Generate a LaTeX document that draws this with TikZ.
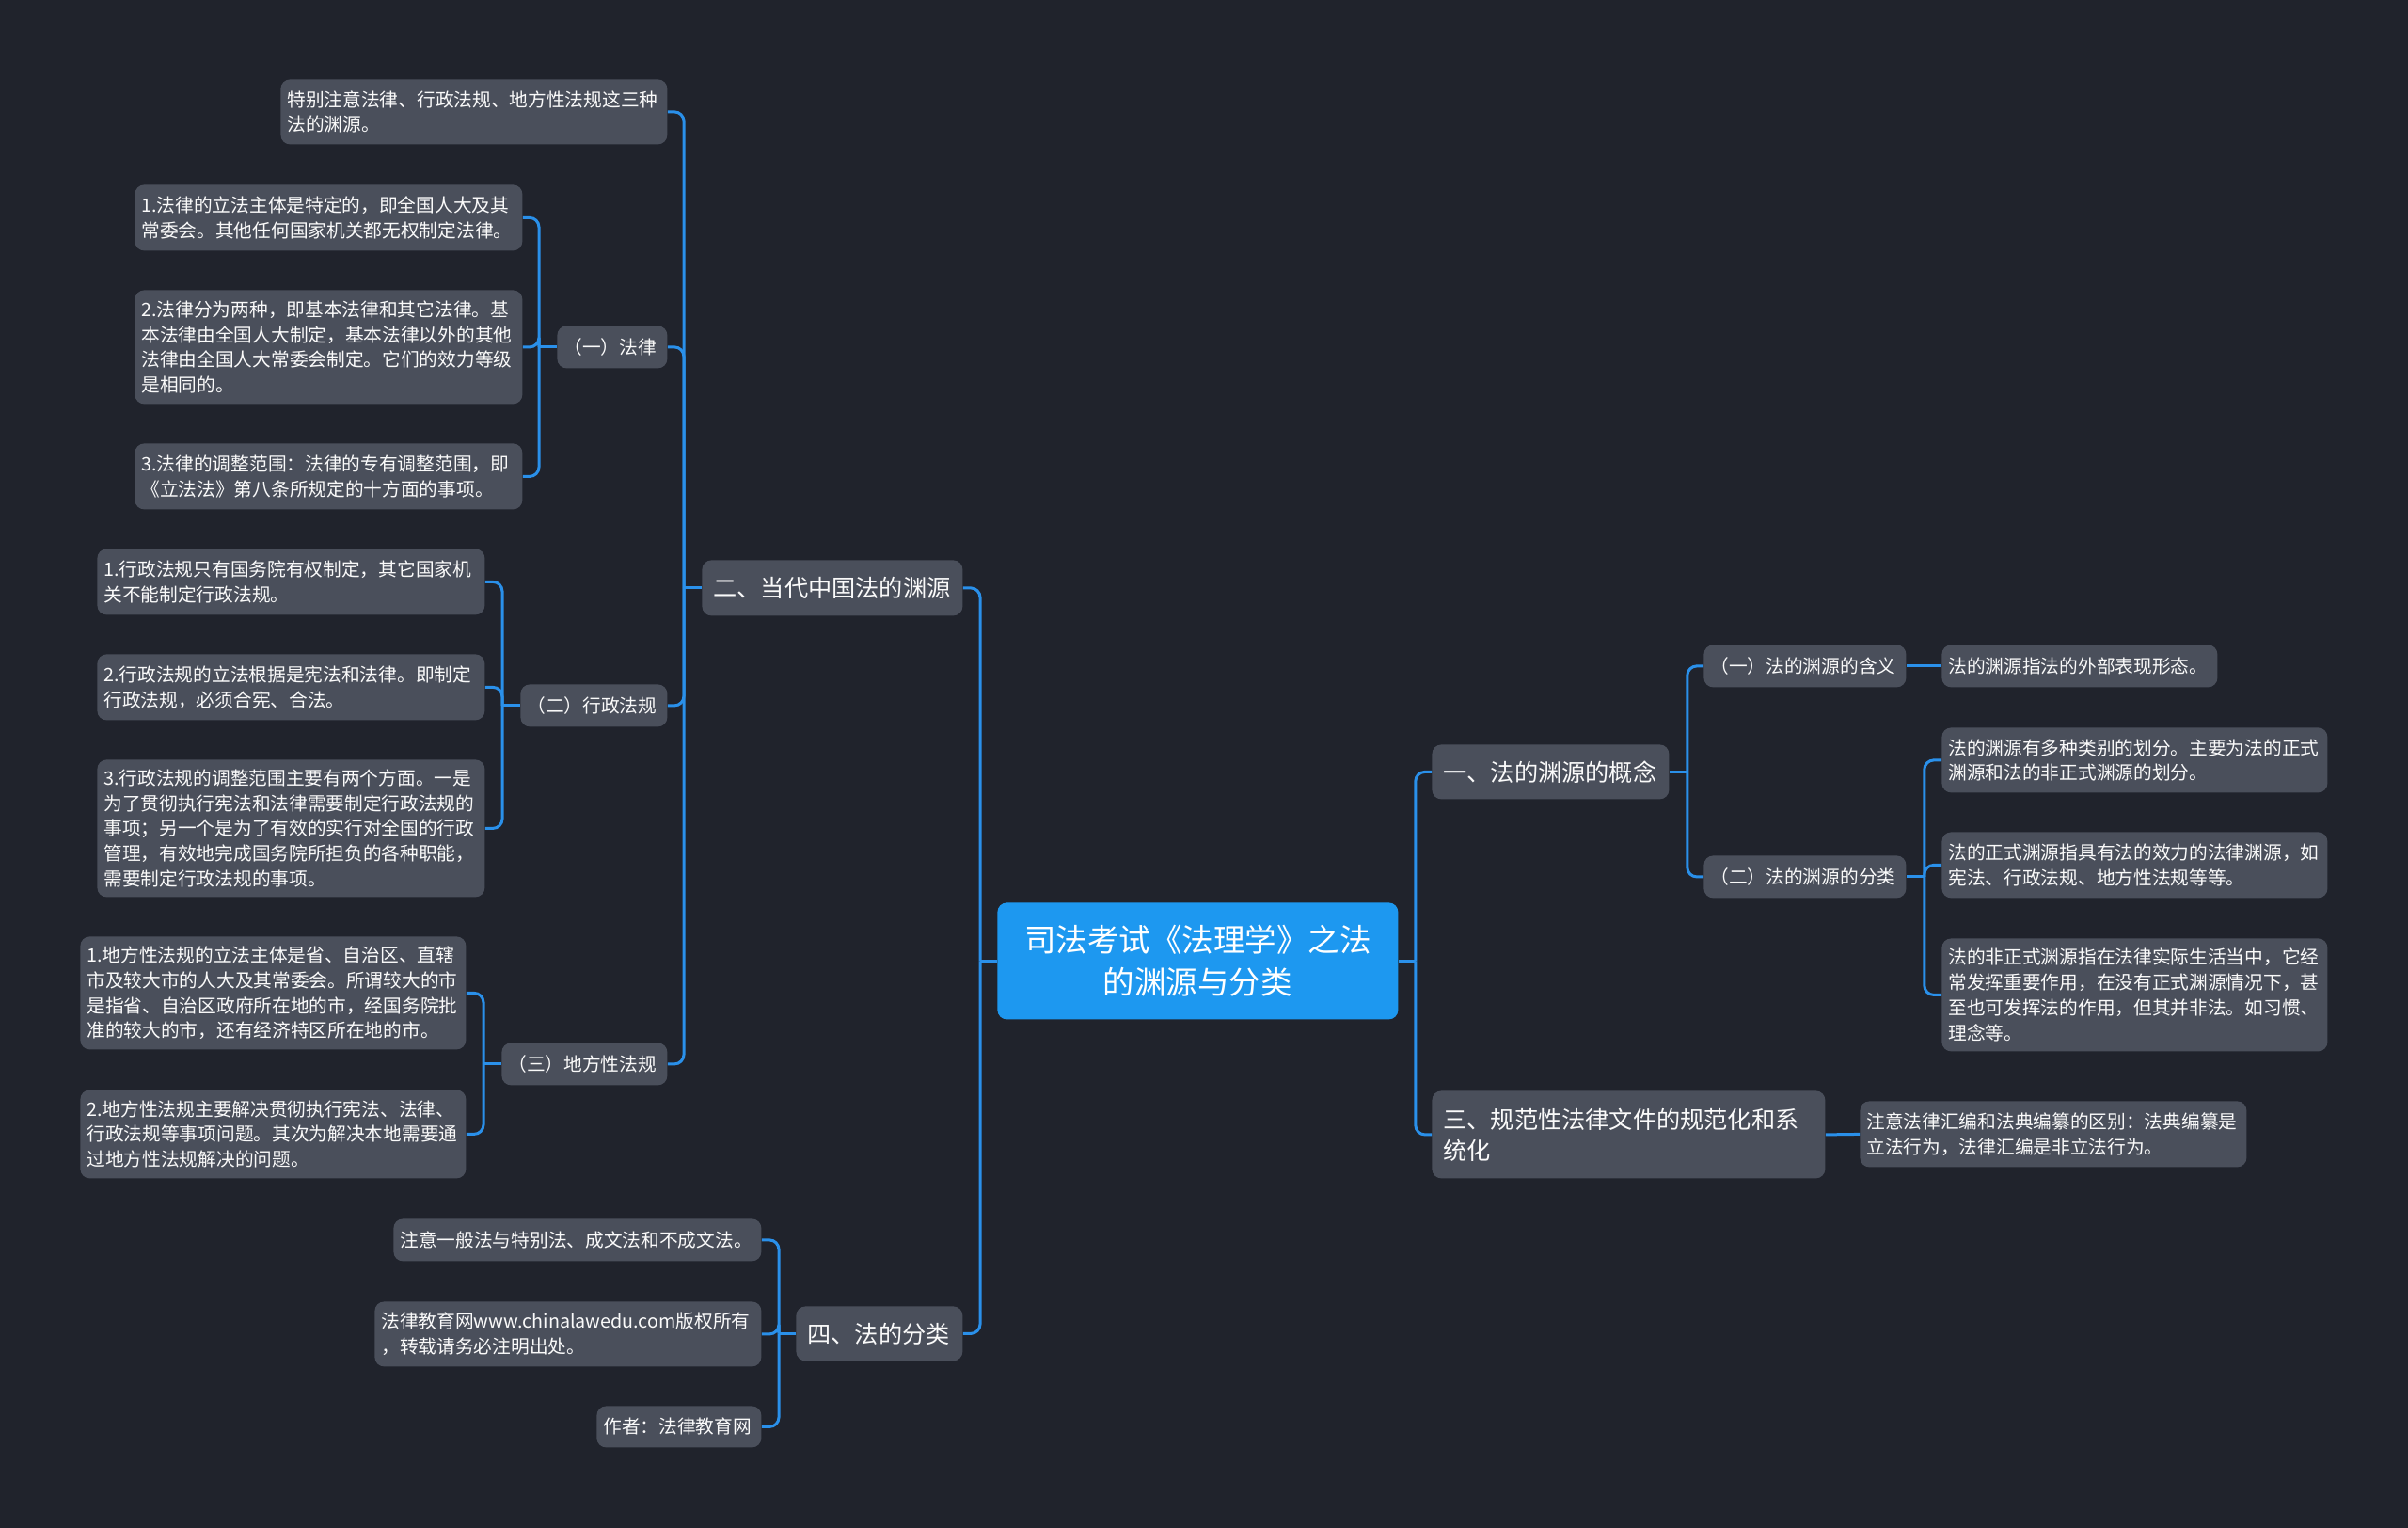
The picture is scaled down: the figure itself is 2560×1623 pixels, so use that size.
\documentclass[tikz,border=0pt]{standalone}
\usepackage{fontspec}
\newfontfamily\cjk{Noto Sans CJK SC}
\definecolor{bgc}{HTML}{20232C}
\definecolor{nodebg}{HTML}{4A4F5B}
\definecolor{linec}{HTML}{2A90EA}
\definecolor{rootc}{HTML}{1D98F0}
\definecolor{txt}{HTML}{FAFAFA}
\tikzset{
  basebox/.style={draw=none, fill=nodebg, rounded corners=5pt, text=txt, inner ysep=0pt, align=left},
  smallbox/.style={basebox, font=\cjk\fontsize{9.85}{13.35}\selectfont},
  branchbox/.style={basebox, font=\cjk\fontsize{12.6}{16.5}\selectfont},
  rootbox/.style={basebox, fill=rootc, text=white, align=center, font=\cjk\fontsize{16.75}{22.5}\selectfont},
  conn/.style={draw=linec, line width=1.5pt, rounded corners=5pt},
}
% name, style, pad(pt), x1, y1, x2, y2, text  (coordinates in px)
\newcommand\bx[8]{%
  \pgfmathsetmacro\bxw{(#6-#4)*0.5}%
  \pgfmathsetmacro\bxh{(#7-#5)*0.5}%
  \pgfmathsetmacro\bxt{(#6-#4)*0.5-2*#3}%
  \node[#2, anchor=north west, inner xsep=#3pt, minimum width=\bxw pt, minimum height=\bxh pt, text width=\bxt pt] (#1) at (#4,#5) {#8};%
}
\begin{document}
\begin{tikzpicture}[x=0.5pt,y=-0.5pt]
\useasboundingbox (0,0) rectangle (2560,1623);
\fill[bgc] (-10,-10) rectangle (2570,1633);

% root
\bx{root}{rootbox}{6}{1060}{959}{1486}{1083}{司法考试《法理学》之法\\的渊源与分类}

% left main branches
\bx{b2}{branchbox}{6}{746}{595}{1023}{654}{二、当代中国法的渊源}
\bx{b4}{branchbox}{6}{846}{1388}{1023}{1446}{四、法的分类}

% branch two children
\bx{tb}{smallbox}{3.5}{298}{84}{709}{153}{特别注意法律、行政法规、地方性法规这三种\\法的渊源。}
\bx{lawH}{smallbox}{3.5}{592}{346}{709}{391}{（一）法律}
\bx{admH}{smallbox}{3.5}{553}{727}{709}{772}{（二）行政法规}
\bx{locH}{smallbox}{3.5}{533}{1108}{709}{1153}{（三）地方性法规}

\bx{law1}{smallbox}{3.5}{143}{196}{555}{266}{1.法律的立法主体是特定的，即全国人大及其\\常委会。其他任何国家机关都无权制定法律。}
\bx{law2}{smallbox}{3.5}{143}{308}{555}{429}{2.法律分为两种，即基本法律和其它法律。基\\本法律由全国人大制定，基本法律以外的其他\\法律由全国人大常委会制定。它们的效力等级\\是相同的。}
\bx{law3}{smallbox}{3.5}{143}{471}{555}{541}{3.法律的调整范围：法律的专有调整范围，即\\《立法法》第八条所规定的十方面的事项。}

\bx{adm1}{smallbox}{3.5}{103}{583}{515}{653}{1.行政法规只有国务院有权制定，其它国家机\\关不能制定行政法规。}
\bx{adm2}{smallbox}{3.5}{103}{695}{515}{765}{2.行政法规的立法根据是宪法和法律。即制定\\行政法规，必须合宪、合法。}
\bx{adm3}{smallbox}{3.5}{103}{807}{515}{953}{3.行政法规的调整范围主要有两个方面。一是\\为了贯彻执行宪法和法律需要制定行政法规的\\事项；另一个是为了有效的实行对全国的行政\\管理，有效地完成国务院所担负的各种职能，\\需要制定行政法规的事项。}

\bx{loc1}{smallbox}{3.5}{85}{995}{495}{1115}{1.地方性法规的立法主体是省、自治区、直辖\\市及较大市的人大及其常委会。所谓较大的市\\是指省、自治区政府所在地的市，经国务院批\\准的较大的市，还有经济特区所在地的市。}
\bx{loc2}{smallbox}{3.5}{85}{1158}{495}{1252}{2.地方性法规主要解决贯彻执行宪法、法律、\\行政法规等事项问题。其次为解决本地需要通\\过地方性法规解决的问题。}

% branch four children
\bx{c1}{smallbox}{3.5}{418}{1295}{809}{1340}{注意一般法与特别法、成文法和不成文法。}
\bx{c2}{smallbox}{3.5}{398}{1383}{809}{1452}{法律教育网www.chinalawedu.com版权所有\\，转载请务必注明出处。}
\bx{c3}{smallbox}{3.5}{634}{1494}{809}{1538}{作者：法律教育网}

% right branches
\bx{b1}{branchbox}{6}{1522}{791}{1774}{849}{一、法的渊源的概念}
\bx{b3}{branchbox}{6}{1522}{1159}{1940}{1252}{三、规范性法律文件的规范化和系\\统化}

\bx{s1}{smallbox}{3.5}{1811}{685}{2026}{730}{（一）法的渊源的含义}
\bx{s1l}{smallbox}{3.5}{2064}{685}{2357}{730}{法的渊源指法的外部表现形态。}
\bx{s2}{smallbox}{3.5}{1811}{909}{2026}{954}{（二）法的渊源的分类}
\bx{s2a}{smallbox}{3.5}{2064}{773}{2474}{842}{法的渊源有多种类别的划分。主要为法的正式\\渊源和法的非正式渊源的划分。}
\bx{s2b}{smallbox}{3.5}{2064}{884}{2474}{954}{法的正式渊源指具有法的效力的法律渊源，如\\宪法、行政法规、地方性法规等等。}
\bx{s2c}{smallbox}{3.5}{2064}{997}{2474}{1117}{法的非正式渊源指在法律实际生活当中，它经\\常发挥重要作用，在没有正式渊源情况下，甚\\至也可发挥法的作用，但其并非法。如习惯、\\理念等。}
\bx{b3l}{smallbox}{3.5}{1977}{1170}{2388}{1240}{注意法律汇编和法典编纂的区别：法典编纂是\\立法行为，法律汇编是非立法行为。}

% connectors: root left
\draw[conn] (root.west) -- ++(-18,0) coordinate (rl);
\draw[conn] (rl) |- (b2.east);
\draw[conn] (rl) |- (b4.east);
% root right
\draw[conn] (root.east) -- ++(18,0) coordinate (rr);
\draw[conn] (rr) |- (b1.west);
\draw[conn] (rr) |- (b3.west);

% branch two
\draw[conn] (b2.west) -- ++(-19,0) coordinate (b2j);
\draw[conn] (b2j) |- (tb.east);
\draw[conn] (b2j) |- (lawH.east);
\draw[conn] (b2j) |- (admH.east);
\draw[conn] (b2j) |- (locH.east);

\draw[conn] (lawH.west) -- ++(-19,0) coordinate (lawj);
\draw[conn] (lawj) |- (law1.east);
\draw[conn] (lawj) |- (law2.east);
\draw[conn] (lawj) |- (law3.east);

\draw[conn] (admH.west) -- ++(-19,0) coordinate (admj);
\draw[conn] (admj) |- (adm1.east);
\draw[conn] (admj) |- (adm2.east);
\draw[conn] (admj) |- (adm3.east);

\draw[conn] (locH.west) -- ++(-19,0) coordinate (locj);
\draw[conn] (locj) |- (loc1.east);
\draw[conn] (locj) |- (loc2.east);

% branch four
\draw[conn] (b4.west) -- ++(-18,0) coordinate (b4j);
\draw[conn] (b4j) |- (c1.east);
\draw[conn] (b4j) |- (c2.east);
\draw[conn] (b4j) |- (c3.east);

% branch one
\draw[conn] (b1.east) -- ++(19,0) coordinate (b1j);
\draw[conn] (b1j) |- (s1.west);
\draw[conn] (b1j) |- (s2.west);
\draw[conn] (s1.east) -- (s1l.west);
\draw[conn] (s2.east) -- ++(19,0) coordinate (s2j);
\draw[conn] (s2j) |- (s2a.west);
\draw[conn] (s2j) |- (s2b.west);
\draw[conn] (s2j) |- (s2c.west);

% branch three
\draw[conn] (b3.east) -- (b3l.west);
\end{tikzpicture}
\end{document}
